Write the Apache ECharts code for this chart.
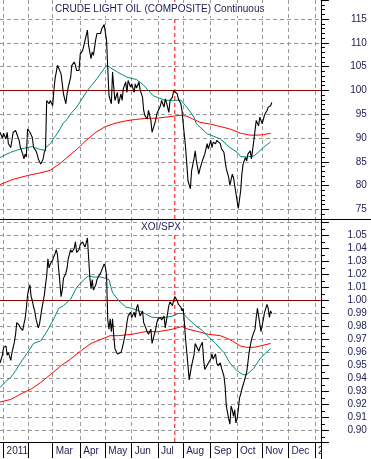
<!DOCTYPE html>
<html>
<head>
<meta charset="utf-8">
<title>Crude Light Oil and XOI/SPX</title>
<script src="https://cdn.jsdelivr.net/npm/echarts@6/dist/echarts.min.js"></script>
<style>
  html, body { margin: 0; padding: 0; background: #fff; }
  #chart { width: 371px; height: 459px; }
</style>
</head>
<body>
<div id="chart"></div>
<script>
// x positions are weekday numbers, 0 = Wed 29 Dec 2010 (so 3 = Mon 3 Jan 2011)
const dayCount = 269;
const monthStarts = [3, 24, 44, 67, 88, 110, 132, 153, 176, 198, 219, 241, 263];
const monthLabels = ['2011', '', 'Mar', 'Apr', 'May', 'Jun', 'Jul', 'Aug', 'Sep', 'Oct', 'Nov', 'Dec', '2012'];
const markerDay = 146;

const oilRange = [72.95, 119.05];
const oilLevel = 100;
const ratioRange = [0.8913, 1.0626];
const ratioLevel = 1.0;

// crude light oil, daily close
const oilPrice = [
  [0, 91.2], [2, 90.0], [3, 91.0], [5, 89.8], [6, 91.2], [7, 88.8], [9, 88.0], [11, 91.2],
  [13, 91.6], [14, 90.9], [16, 89.5], [17, 88.0], [19, 86.6], [20, 85.6], [21, 86.6], [22, 86.0],
  [23, 91.9], [25, 91.2], [27, 90.1], [28, 88.0], [30, 87.3], [31, 86.6], [32, 85.6], [34, 84.5],
  [36, 85.6], [37, 87.0], [38, 87.5], [39, 97.9], [41, 97.2], [42, 97.9], [44, 96.8], [45, 100.0],
  [46, 102.5], [48, 105.3], [49, 105.0], [51, 103.5], [52, 101.4], [53, 99.3], [55, 97.2], [56, 99.3],
  [57, 100.7], [59, 102.8], [60, 105.3], [62, 106.0], [63, 105.3], [64, 104.2], [66, 104.2], [67, 107.7],
  [69, 108.4], [70, 108.8], [71, 110.5], [73, 112.7], [74, 109.5], [76, 106.7], [77, 108.1], [78, 107.4],
  [80, 110.8], [81, 112.0], [82, 112.4], [84, 112.0], [85, 113.0], [87, 113.9], [88, 113.7], [89, 110.5],
  [91, 99.0], [93, 97.2], [94, 103.9], [95, 100.7], [96, 97.9], [98, 99.6], [99, 97.2], [101, 99.3],
  [102, 97.9], [103, 100.4], [105, 101.8], [106, 99.6], [107, 102.1], [109, 100.7], [110, 101.4], [112, 99.6],
  [113, 101.4], [114, 100.5], [116, 101.8], [117, 100.2], [119, 98.6], [120, 95.8], [121, 94.7], [123, 94.0],
  [124, 95.8], [126, 93.7], [127, 91.2], [128, 90.9], [130, 93.7], [131, 95.1], [132, 95.1], [134, 96.8],
  [135, 97.9], [137, 96.5], [138, 98.2], [139, 97.5], [141, 95.4], [142, 97.9], [144, 98.6], [145, 100.0],
  [146, 99.6], [148, 99.3], [149, 98.2], [151, 97.2], [152, 95.8], [153, 93.0], [155, 88.0], [156, 84.5],
  [157, 81.0], [159, 79.3], [160, 83.1], [162, 85.6], [163, 87.3], [164, 85.2], [166, 82.4], [167, 83.5],
  [169, 85.2], [170, 85.9], [171, 86.6], [173, 88.8], [174, 87.7], [176, 89.5], [177, 88.0], [178, 89.1],
  [180, 88.8], [181, 89.5], [182, 89.8], [184, 88.8], [185, 87.7], [187, 87.0], [188, 85.2], [189, 83.5],
  [191, 81.7], [192, 80.0], [194, 82.4], [195, 81.7], [196, 80.0], [198, 76.8], [199, 75.2], [201, 78.9],
  [202, 82.4], [203, 84.5], [205, 85.9], [206, 85.2], [207, 86.6], [209, 87.3], [210, 85.6], [211, 85.2],
  [212, 89.5], [213, 91.6], [214, 93.7], [216, 92.6], [217, 94.4], [219, 93.0], [220, 94.0], [221, 94.9],
  [223, 95.8], [224, 96.5], [226, 96.8], [227, 97.5]
];
// 50-day average (green)
const oilAvgFast = [
  [0, 85.9], [9, 87.0], [17, 87.7], [27, 88.2], [32, 87.7], [37, 87.4], [39, 88.2], [42, 88.8],
  [45, 90.0], [48, 91.0], [53, 93.2], [56, 93.9], [59, 95.1], [64, 96.5], [73, 100.0], [81, 102.5],
  [89, 105.3], [98, 103.9], [106, 102.8], [114, 102.3], [120, 101.1], [128, 98.9], [137, 98.0], [145, 97.9],
  [151, 98.0], [156, 96.5], [162, 94.4], [164, 93.0], [173, 90.9], [181, 90.1], [184, 89.8], [192, 88.0],
  [198, 87.0], [201, 86.1], [206, 86.0], [212, 86.2], [217, 87.3], [220, 88.0], [226, 89.2]
];
// 200-day average (red)
const oilAvgSlow = [
  [0, 80.2], [11, 81.3], [23, 82.1], [36, 82.8], [42, 83.2], [51, 84.8], [56, 85.9], [65, 87.8],
  [71, 89.3], [80, 91.2], [88, 92.4], [96, 93.1], [105, 93.6], [113, 93.9], [121, 94.1], [132, 94.2],
  [142, 94.5], [151, 94.8], [156, 94.6], [161, 94.0], [167, 93.3], [176, 92.9], [181, 92.6], [192, 91.9],
  [201, 91.0], [209, 90.6], [215, 90.6], [220, 90.7], [226, 91.0]
];

// XOI / SPX ratio
const ratio = [
  [0, 0.952], [2, 0.958], [3, 0.964], [5, 0.965], [6, 0.958], [7, 0.960], [9, 0.954], [10, 0.960],
  [12, 0.968], [13, 0.974], [14, 0.983], [16, 0.981], [17, 0.979], [19, 0.977], [20, 0.982], [21, 0.986],
  [22, 0.994], [23, 1.004], [24, 1.009], [25, 1.012], [26, 1.003], [27, 1.000], [28, 0.995], [29, 0.992],
  [30, 0.986], [32, 0.979], [33, 0.982], [34, 0.988], [35, 0.994], [36, 0.999], [37, 1.004], [38, 1.012],
  [39, 1.019], [40, 1.032], [41, 1.025], [42, 1.028], [44, 1.031], [45, 1.034], [46, 1.036], [47, 1.039],
  [48, 1.035], [49, 1.024], [50, 1.014], [51, 1.003], [52, 1.008], [53, 1.017], [55, 1.021], [56, 1.025],
  [57, 1.032], [59, 1.039], [60, 1.037], [62, 1.040], [63, 1.045], [64, 1.037], [66, 1.039], [67, 1.043],
  [69, 1.045], [70, 1.044], [71, 1.041], [73, 1.048], [74, 1.049], [75, 1.018], [76, 1.009], [77, 1.016],
  [78, 1.008], [80, 1.012], [81, 1.016], [82, 1.018], [84, 1.021], [85, 1.022], [87, 1.028], [88, 1.026],
  [89, 1.019], [90, 0.985], [91, 0.978], [92, 0.986], [93, 0.976], [94, 0.986], [95, 0.973], [96, 0.963],
  [98, 0.959], [99, 0.958], [101, 0.960], [102, 0.963], [103, 0.967], [105, 0.976], [106, 0.983], [107, 0.988],
  [109, 0.991], [110, 0.987], [112, 0.991], [113, 0.987], [114, 0.994], [115, 0.997], [116, 0.992], [117, 0.988],
  [119, 0.992], [120, 0.983], [121, 0.982], [123, 0.976], [124, 0.974], [126, 0.978], [127, 0.967], [128, 0.966],
  [130, 0.978], [131, 0.983], [132, 0.986], [134, 0.987], [135, 0.985], [137, 0.988], [138, 0.979], [139, 0.978],
  [141, 0.996], [142, 0.999], [144, 0.996], [145, 1.000], [146, 1.003], [148, 1.000], [149, 0.997], [151, 0.995],
  [152, 0.992], [153, 0.994], [154, 0.983], [155, 0.970], [156, 0.960], [157, 0.950], [158, 0.939], [159, 0.939],
  [160, 0.950], [162, 0.958], [163, 0.967], [164, 0.968], [166, 0.961], [167, 0.964], [169, 0.968], [170, 0.955],
  [171, 0.947], [173, 0.950], [174, 0.952], [176, 0.955], [177, 0.959], [178, 0.955], [180, 0.959], [181, 0.952],
  [182, 0.950], [184, 0.952], [185, 0.948], [187, 0.942], [188, 0.934], [189, 0.919], [191, 0.909], [192, 0.905],
  [193, 0.919], [194, 0.916], [195, 0.911], [196, 0.916], [197, 0.906], [198, 0.909], [199, 0.916], [200, 0.925],
  [201, 0.928], [202, 0.932], [203, 0.932], [204, 0.938], [206, 0.945], [207, 0.952], [208, 0.960], [209, 0.965],
  [210, 0.970], [211, 0.973], [212, 0.974], [213, 0.978], [214, 0.987], [215, 0.994], [216, 0.988], [217, 0.982],
  [218, 0.976], [219, 0.976], [220, 0.986], [221, 0.991], [222, 0.994], [223, 0.997], [224, 0.994], [225, 0.987],
  [226, 0.992], [227, 0.990]
];
const ratioAvgFast = [
  [0, 0.933], [5, 0.938], [9, 0.941], [13, 0.946], [17, 0.952], [23, 0.960], [28, 0.967], [34, 0.969],
  [39, 0.976], [45, 0.986], [49, 0.994], [53, 0.996], [59, 1.001], [64, 1.010], [70, 1.016], [74, 1.019],
  [78, 1.018], [84, 1.018], [88, 1.017], [91, 1.016], [94, 1.006], [99, 1.000], [105, 0.995], [110, 0.994],
  [116, 0.992], [121, 0.990], [127, 0.987], [132, 0.987], [138, 0.987], [144, 0.988], [149, 0.990], [153, 0.990],
  [157, 0.986], [163, 0.981], [169, 0.977], [174, 0.972], [180, 0.967], [187, 0.960], [192, 0.952], [198, 0.946],
  [203, 0.943], [206, 0.943], [212, 0.948], [217, 0.955], [221, 0.959], [226, 0.963]
];
const ratioAvgSlow = [
  [0, 0.922], [9, 0.924], [17, 0.928], [26, 0.932], [34, 0.937], [42, 0.943], [51, 0.950], [59, 0.955],
  [67, 0.961], [76, 0.967], [84, 0.970], [92, 0.973], [99, 0.973], [110, 0.974], [121, 0.976], [132, 0.976],
  [144, 0.978], [152, 0.980], [157, 0.978], [166, 0.976], [174, 0.974], [184, 0.973], [192, 0.970], [201, 0.965],
  [206, 0.964], [212, 0.964], [217, 0.965], [226, 0.967]
];

const days = Array.from({ length: dayCount }, (_, i) => i);
const isMonthStart = (i) => monthStarts.indexOf(i) !== -1;
const font = "'Liberation Sans', Arial, sans-serif";
const textColor = '#1c1c50';
const gridColor = '#999999';

function makeXAxis(gridIndex, withLabels) {
  return {
    type: 'category',
    gridIndex: gridIndex,
    data: days,
    boundaryGap: false,
    axisLine: { show: withLabels, lineStyle: { color: '#000', width: 1 } },
    axisTick: { show: withLabels, interval: isMonthStart, length: 16, lineStyle: { color: '#000' } },
    axisLabel: {
      show: withLabels,
      interval: isMonthStart,
      formatter: (v, i) => monthLabels[monthStarts.indexOf(i)] || '',
      align: 'left',
      margin: 4,
      padding: [0, 0, 0, 3],
      color: textColor,
      fontSize: 10,
      fontFamily: font
    },
    splitLine: { show: true, interval: isMonthStart, lineStyle: { color: gridColor, type: [4, 3], width: 1 } }
  };
}

function makeYAxis(gridIndex, range, step, minorSplit, fmt) {
  return {
    type: 'value',
    gridIndex: gridIndex,
    position: 'right',
    min: range[0],
    max: range[1],
    minInterval: step,
    maxInterval: step,
    axisLine: { show: true, lineStyle: { color: '#000', width: 1 } },
    axisTick: { show: true, length: 8, lineStyle: { color: '#000' } },
    minorTick: { show: true, splitNumber: minorSplit, length: 4, lineStyle: { color: '#000' } },
    axisLabel: {
      showMinLabel: false,
      showMaxLabel: false,
      align: 'right',
      margin: 46,
      color: textColor,
      fontSize: 10,
      fontFamily: font,
      formatter: fmt
    },
    splitLine: {
      show: true, showMinLine: false, showMaxLine: false,
      lineStyle: { color: gridColor, type: [4, 3], width: 1 }
    }
  };
}

function lineSeries(axisIndex, data, color, width, z, dash) {
  return {
    type: 'line',
    xAxisIndex: axisIndex,
    yAxisIndex: axisIndex,
    data: data,
    symbol: 'none',
    silent: true,
    lineStyle: { color: color, width: width, type: dash || 'solid' },
    z: z
  };
}

// horizontal reference level across the whole panel
function levelLine(axisIndex, level) {
  return lineSeries(axisIndex, [[0, level], [dayCount - 1, level]], '#8b0000', 1, 2);
}

// vertical dashed date marker from the bottom to the top of the panel
function dayLine(axisIndex, range) {
  return lineSeries(axisIndex, [[markerDay, range[0]], [markerDay, range[1]]], '#ff0000', 1, 2, [4, 3]);
}

const chart = echarts.init(document.getElementById('chart'));

chart.setOption({
  animation: false,
  backgroundColor: '#fff',
  title: [
    {
      text: 'CRUDE LIGHT OIL (COMPOSITE) Continuous',
      left: 53, top: 3, padding: [1, 2], backgroundColor: '#fff',
      textStyle: { fontSize: 10, fontWeight: 'normal', color: textColor, fontFamily: font, lineHeight: 11 }
    },
    {
      text: 'XOI/SPX',
      left: 139, top: 221, padding: [1, 2], backgroundColor: '#fff',
      textStyle: { fontSize: 10, fontWeight: 'normal', color: textColor, fontFamily: font, lineHeight: 11 }
    }
  ],
  grid: [
    { left: -0.7, right: 50.1, top: 0, height: 219 },
    { left: -0.7, right: 50.1, top: 219, height: 223 }
  ],
  xAxis: [makeXAxis(0, false), makeXAxis(1, true)],
  yAxis: [
    makeYAxis(0, oilRange, 5, 5, (v) => String(v)),
    makeYAxis(1, ratioRange, 0.01, 2, (v) => (v > 1.055 ? '' : v.toFixed(2)))
  ],
  series: [
    levelLine(0, oilLevel),
    dayLine(0, oilRange),
    lineSeries(0, oilAvgSlow, '#ff0000', 1, 3),
    lineSeries(0, oilAvgFast, '#008b7a', 1, 4),
    lineSeries(0, oilPrice, '#000', 1.1, 5),
    levelLine(1, ratioLevel),
    dayLine(1, ratioRange),
    lineSeries(1, ratioAvgSlow, '#ff0000', 1, 3),
    lineSeries(1, ratioAvgFast, '#008b7a', 1, 4),
    lineSeries(1, ratio, '#000', 1.1, 5)
  ],
  graphic: [
    // panel divider across the full width
    { type: 'line', shape: { x1: 0, y1: 219.5, x2: 371, y2: 219.5 }, style: { stroke: '#000', lineWidth: 1 }, z: 50, silent: true },
    // the date strip is cut off at the price scale
    { type: 'rect', shape: { x: 321.5, y: 443, width: 50, height: 16 }, style: { fill: '#fff' }, z: 50, silent: true },
    { type: 'line', shape: { x1: 321.5, y1: 442, x2: 321.5, y2: 459 }, style: { stroke: '#000', lineWidth: 1 }, z: 51, silent: true }
  ]
});

window.addEventListener('resize', () => {
  chart.resize();
});
</script>
</body>
</html>
